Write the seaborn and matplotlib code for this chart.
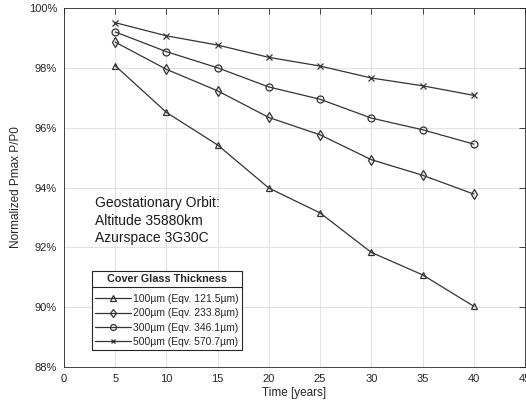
import pandas as pd
import seaborn as sns
import matplotlib.pyplot as plt
from matplotlib.ticker import FuncFormatter, MultipleLocator

years = [5, 10, 15, 20, 25, 30, 35, 40]
glass_100 = [98.07, 96.51, 95.42, 93.98, 93.15, 91.83, 91.08, 90.03]
glass_200 = [98.86, 97.95, 97.23, 96.34, 95.76, 94.93, 94.41, 93.78]
glass_300 = [99.20, 98.54, 98.00, 97.36, 96.95, 96.32, 95.93, 95.45]
glass_500 = [99.51, 99.07, 98.76, 98.35, 98.06, 97.66, 97.40, 97.08]

labels = ["100\u00b5m (Eqv. 121.5\u00b5m)", "200\u00b5m (Eqv. 233.8\u00b5m)",
          "300\u00b5m (Eqv. 346.1\u00b5m)", "500\u00b5m (Eqv. 570.7\u00b5m)"]
series = [glass_100, glass_200, glass_300, glass_500]
markers = ["^", "d", "o", "x"]
marker_sizes = [5, 5, 5, 3.8]

sns.set_theme(style="white")
plt.rcParams['font.family'] = ['Liberation Sans', 'DejaVu Sans']

line_col = "#333333"
axis_col = "#262626"

fig = plt.figure(figsize=(5.26, 4.07), dpi=100)
ax = fig.add_axes([64 / 526, 1 - 367 / 407, 461 / 526, 359 / 407])

for vals, lab, m, ms in zip(series, labels, markers, marker_sizes):
    df = pd.DataFrame({"Time": years, "P": vals})
    sns.lineplot(data=df, x="Time", y="P", ax=ax, color=line_col, linewidth=0.9,
                 marker=m, markersize=ms, markerfacecolor="none",
                 markeredgecolor=line_col, markeredgewidth=0.9, label=lab)

ax.set_xlim(0, 45)
ax.set_ylim(88, 100)
ax.xaxis.set_major_locator(MultipleLocator(5))
ax.yaxis.set_major_locator(MultipleLocator(2))
ax.yaxis.set_major_formatter(FuncFormatter(lambda v, p: f"{v:.0f}%"))
ax.grid(True, color="#e3e3e3", linewidth=0.8)
ax.set_axisbelow(True)
ax.tick_params(direction="in", length=4, width=0.6, top=True, right=True,
               labelsize=8, colors=axis_col, pad=5)
for s in ax.spines.values():
    s.set_color(axis_col)
    s.set_linewidth(0.6)

ax.set_xlabel("Time [years]", fontsize=8.5, color=axis_col, labelpad=2)
ax.set_ylabel("Normalized Pmax P/P0", fontsize=8.5, color=axis_col, labelpad=5)

ax.text(3.05, 93.7, "Geostationary Orbit:\nAltitude 35880km\nAzurspace 3G30C",
        fontsize=10, color="#1a1a1a", va="top", ha="left", linespacing=1.29)

leg = ax.legend(title="Cover Glass Thickness", loc="lower left",
                bbox_to_anchor=(2.75 / 45, 0.047), fontsize=7.5, frameon=True,
                fancybox=False, edgecolor=axis_col, framealpha=1,
                borderpad=0.3, labelspacing=0.42, handlelength=3.4,
                handletextpad=0.25, borderaxespad=0, markerscale=0.85)
leg.get_title().set_fontweight("bold")
leg.get_title().set_fontsize(7.8)
leg.get_frame().set_linewidth(0.8)
leg._legend_box.sep = 7

# separator under legend title, like the original
fig.canvas.draw()
fb = leg.get_frame().get_window_extent()
tb = leg.get_title().get_window_extent()
inv = fig.transFigure.inverted()
x0, y0 = inv.transform((fb.x0, tb.y0 - 3))
x1, _ = inv.transform((fb.x1, tb.y0 - 3))
fig.add_artist(plt.Line2D([x0, x1], [y0, y0], color=axis_col, linewidth=0.8))

fig.savefig("out.png", dpi=100)
